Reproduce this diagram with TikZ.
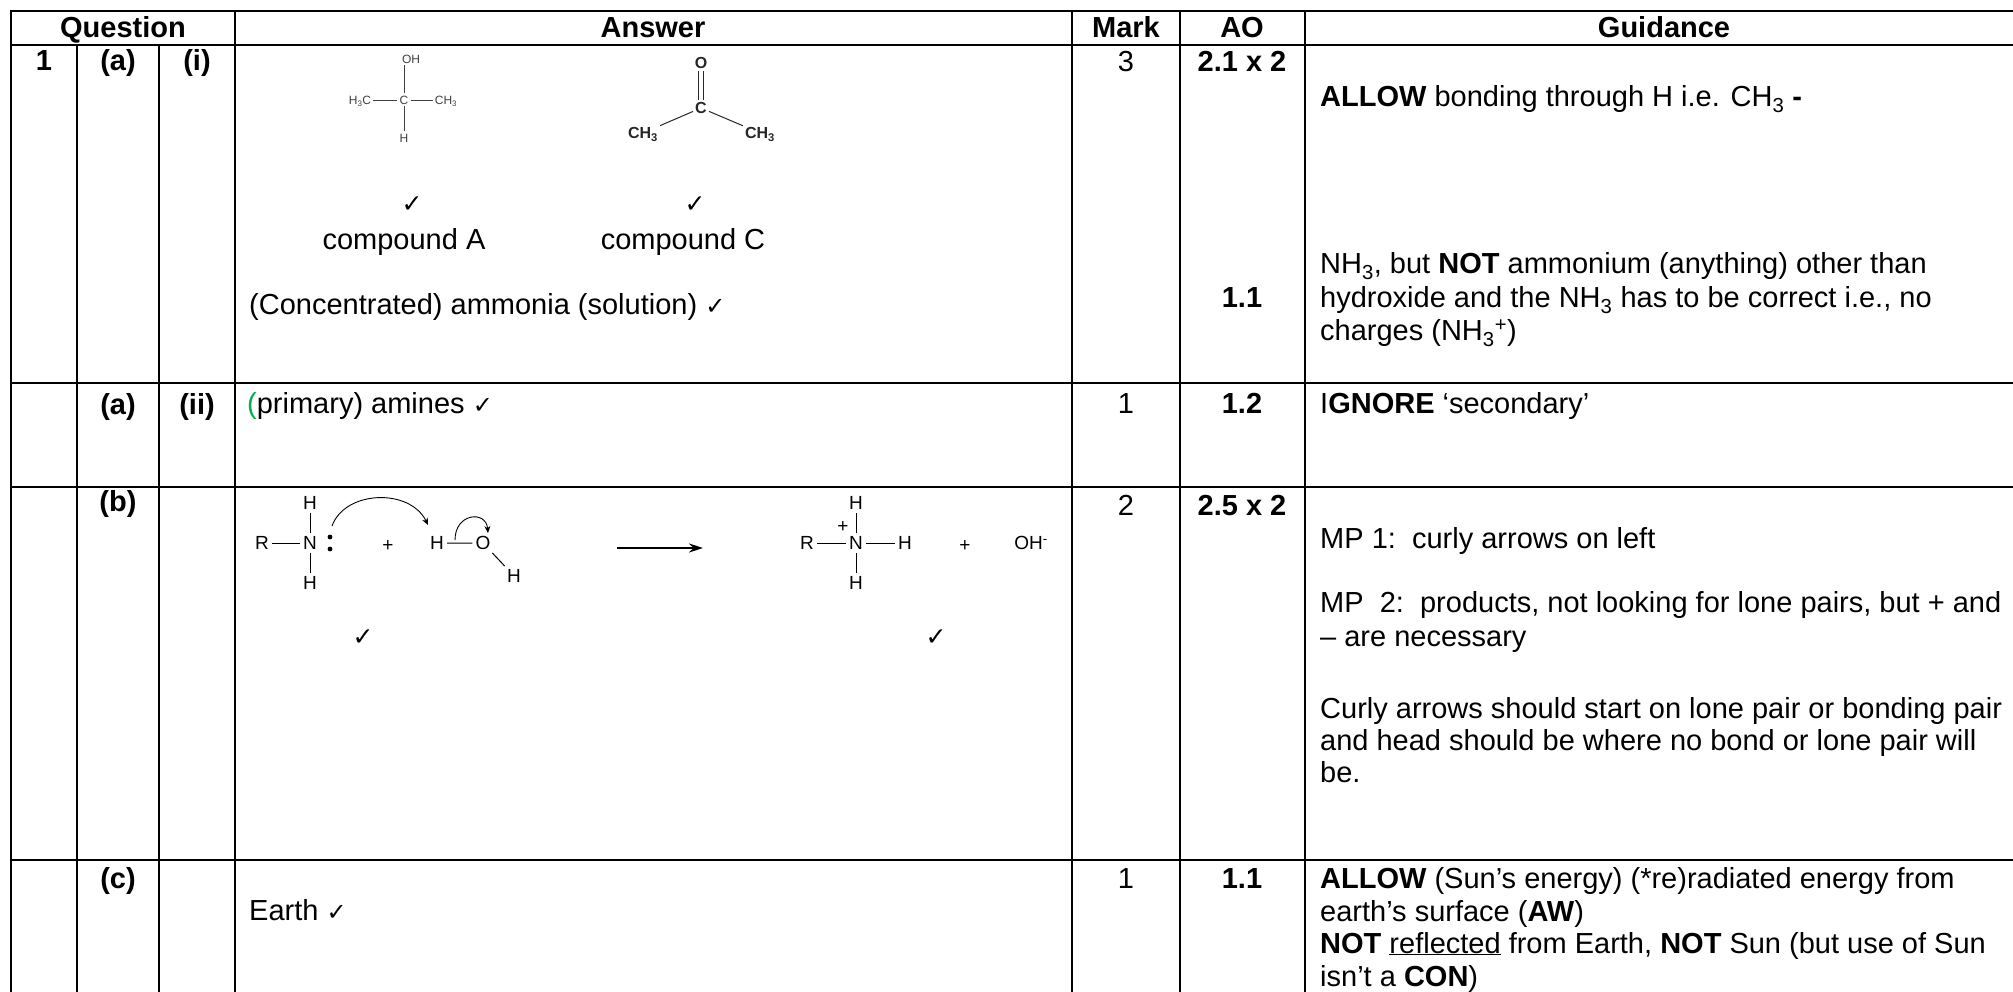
\documentclass[tikz,border=0pt]{standalone}
\usepackage{fontspec}
\setmainfont{Liberation Sans}
\newfontfamily\symfont{DejaVu Sans}
\usepackage{tikz}
\usetikzlibrary{positioning}
\usetikzlibrary{arrows.meta}
\usepackage{xcolor}
\definecolor{markgreen}{RGB}{0,176,80}
\newcommand{\bodysz}{\fontsize{29}{33}\selectfont}
\newcommand{\chemsz}{\fontsize{19}{22}\selectfont}
\newcommand{\tick}{{\symfont\fontsize{24}{24}\selectfont ✓}}

\begin{document}
\begin{tikzpicture}[
  x=1pt, y=-1pt,
  font=\bodysz,
  hrule/.style={line width=2.8pt},
  vrule/.style={line width=2.4pt},
  cell/.style={anchor=base west, inner sep=0pt},
  ctext/.style={anchor=base, inner sep=0pt},
  hdr/.style={anchor=base, inner sep=0pt, font=\bodysz\bfseries},
  tickmark/.style={inner sep=0pt, font=\symfont\fontsize{25}{25}\selectfont},
  atom/.style={inner sep=3pt, text height=13.6pt, text depth=0pt, font=\chemsz},
  molA/.style={inner sep=2pt, text height=8.6pt, text depth=0pt, text=black!75, font=\fontsize{12}{12}\selectfont},
  molC/.style={inner sep=2pt, text height=11.5pt, text depth=0pt, text=black!85, font=\fontsize{16}{16}\selectfont\bfseries},
  bond/.style={line width=1pt},
  curly/.style={-{Stealth[length=7pt, width=6pt]}, line width=0.9pt},
  rxn/.style={-{Stealth[length=14pt, width=9pt]}, line width=2pt}
]
\useasboundingbox (0,0) rectangle (2013,992);

% grid
\foreach \y in {11,45,383,487,860}
  \draw[hrule] (9.8,\y) -- (2013,\y);
\foreach \x in {11,235,1072,1180,1305}
  \draw[vrule] (\x,11) -- (\x,992);
\foreach \x in {77,159}
  \draw[vrule] (\x,45) -- (\x,992);

% header
\node[hdr] (hq) at (123,38) {Question};
\node[hdr] (ha) at (653,38) {Answer};
\node[hdr] (hm) at (1126,38) {Mark};
\node[hdr] (hao) at (1242,38) {AO};
\node[hdr] (hg) at (1664,38) {Guidance};

% question labels
\node[hdr] (q1) at (44,71) {1};
\node[hdr] (q1a) at (118,71) {(a)};
\node[hdr] (q1ai) at (197,71) {(i)};
\node[hdr] (q2a) at (118,414) {(a)};
\node[hdr] (q2aii) at (197,414) {(ii)};
\node[hdr] (q3b) at (118,511) {(b)};
\node[hdr] (q4c) at (118,888) {(c)};

% marks and AO
\node[ctext] (m1) at (1126,72) {3};
\node[hdr] (ao1) at (1242,72) {2.1 x 2};
\node[hdr] (ao1b) at (1242,308) {1.1};
\node[ctext] (m2) at (1126,413) {1};
\node[hdr] (ao2) at (1242,413) {1.2};
\node[ctext] (m3) at (1126,515) {2};
\node[hdr] (ao3) at (1242,515) {2.5 x 2};
\node[ctext] (m4) at (1126,888) {1};
\node[hdr] (ao4) at (1242,888) {1.1};

% guidance
\node[cell] (g1a) at (1320,107) {\textbf{ALLOW} bonding through H i.e. CH\textsubscript{3} \textbf{-}};
\node[cell] (g1b) at (1320,274) {NH\textsubscript{3}, but \textbf{NOT} ammonium (anything) other than};
\node[cell] (g1c) at (1320,308) {hydroxide and the NH\textsubscript{3} has to be correct i.e., no};
\node[cell] (g1d) at (1320,341) {charges (NH\textsubscript{3}\textsuperscript{+})};
\node[cell] (g2) at (1320,413) {I\textbf{GNORE} ‘secondary’};
\node[cell] (g3a) at (1320,548) {MP 1:\ \ curly arrows on left};
\node[cell] (g3b) at (1320,612) {MP\ \ 2:\ \ products, not looking for lone pairs, but + and};
\node[cell] (g3c) at (1320,646) {-- are necessary};
\node[cell] (g3d) at (1320,718) {Curly arrows should start on lone pair or bonding pair};
\node[cell] (g3e) at (1320,750) {and head should be where no bond or lone pair will};
\node[cell] (g3f) at (1320,782) {be.};
\node[cell] (g4a) at (1320,888) {\textbf{ALLOW} (Sun’s energy) (*re)radiated energy from};
\node[cell] (g4b) at (1320,921) {earth’s surface (\textbf{AW})};
\node[cell] (g4c) at (1320,953) {\textbf{NOT} \underline{reflected} from Earth, \textbf{NOT} Sun (but use of Sun};
\node[cell] (g4d) at (1320,986) {isn’t a \textbf{CON})};

% answers
\node[tickmark] (tA) at (412,205) {✓};
\node[tickmark] (tC) at (695,205) {✓};
\node[ctext] (ansA) at (404,250) {compound A};
\node[ctext] (ansC) at (683,250) {compound C};
\node[cell] (ans1) at (249,315) {(Concentrated) ammonia (solution) \tick};
\node[cell] (ans2) at (247,413) {\textcolor{markgreen}{(}primary) amines \tick};
\node[cell] (ans4) at (249,920) {Earth \tick};
\node[tickmark] (tB1) at (363,638) {✓};
\node[tickmark] (tB2) at (936,638) {✓};

% compound A
\node[molA] (aC) at (404,100) {C};
\node[molA] (aL) at (360,100) {H\textsubscript{3}C};
\node[molA] (aR) at (446,100) {CH\textsubscript{3}};
\node[molA] (aOH) at (411,59) {OH};
\node[molA] (aH) at (404,138) {H};
\draw[black!75, line width=0.8pt] (aL) -- (aC) -- (aR);
\draw[black!75, line width=0.8pt] (aC) -- (aH);
\draw[black!75, line width=0.8pt] (aC.north) -- (aC.north |- aOH.south);

% compound C
\node[molC] (cO) at (701,63) {O};
\node[molC] (cC) at (701,108) {C};
\node[molC] (cL) at (643,133) {CH\textsubscript{3}};
\node[molC] (cR) at (760,133) {CH\textsubscript{3}};
\draw[bond, black!85] ([xshift=-2.2pt]cO.south) -- ([xshift=-2.2pt]cC.north);
\draw[bond, black!85] ([xshift=2.2pt]cO.south) -- ([xshift=2.2pt]cC.north);
\draw[bond, black!85] (cC) -- (cL);
\draw[bond, black!85] (cC) -- (cR);

% mechanism: reactants
\node[atom] (bR) at (262,543) {R};
\node[atom] (bN) at (310,543) {N};
\node[atom] (bNt) at (310,503) {H};
\node[atom] (bNb) at (310,583) {H};
\draw[bond] (bR) -- (bN);
\draw[bond] (bN) -- (bNt);
\draw[bond] (bN) -- (bNb);
\fill (330,537) circle (2.4pt) (330,549) circle (2.4pt);
\node[atom] (bp1) at (388,545) {+};
\node[atom] (wH) at (437,543) {H};
\node[atom] (wO) at (483,543) {O};
\node[atom] (wH2) at (514,576) {H};
\draw[bond] (wH) -- (wO) -- (wH2);

% curly arrows
\coordinate (lpA) at (332,526);
\coordinate (hitH) at (428,525);
\draw[curly] (lpA) .. controls (345,490) and (410,488) .. (hitH);
\coordinate (bndOH) at (455,540);
\coordinate (hitO) at (488,533);
\draw[curly] (bndOH) .. controls (455,513) and (486,510) .. (hitO);

% reaction arrow
\coordinate (rxA) at (617,548);
\coordinate (rxB) at (703,548);
\draw[rxn] (rxA) -- (rxB);

% products
\node[atom] (pR) at (807,543) {R};
\node[atom] (pN) at (856,543) {N};
\node[atom] (pHr) at (905,543) {H};
\node[atom] (pHt) at (856,503) {H};
\node[atom] (pHb) at (856,583) {H};
\node[atom, inner sep=0pt] (pchg) at (843,526) {+};
\draw[bond] (pR) -- (pN) -- (pHr);
\draw[bond] (pN) -- (pHt);
\draw[bond] (pN) -- (pHb);
\node[atom] (bp2) at (965,545) {+};
\node[atom] (pOH) at (1031,543) {OH\textsuperscript{-}};
\end{tikzpicture}
\end{document}
